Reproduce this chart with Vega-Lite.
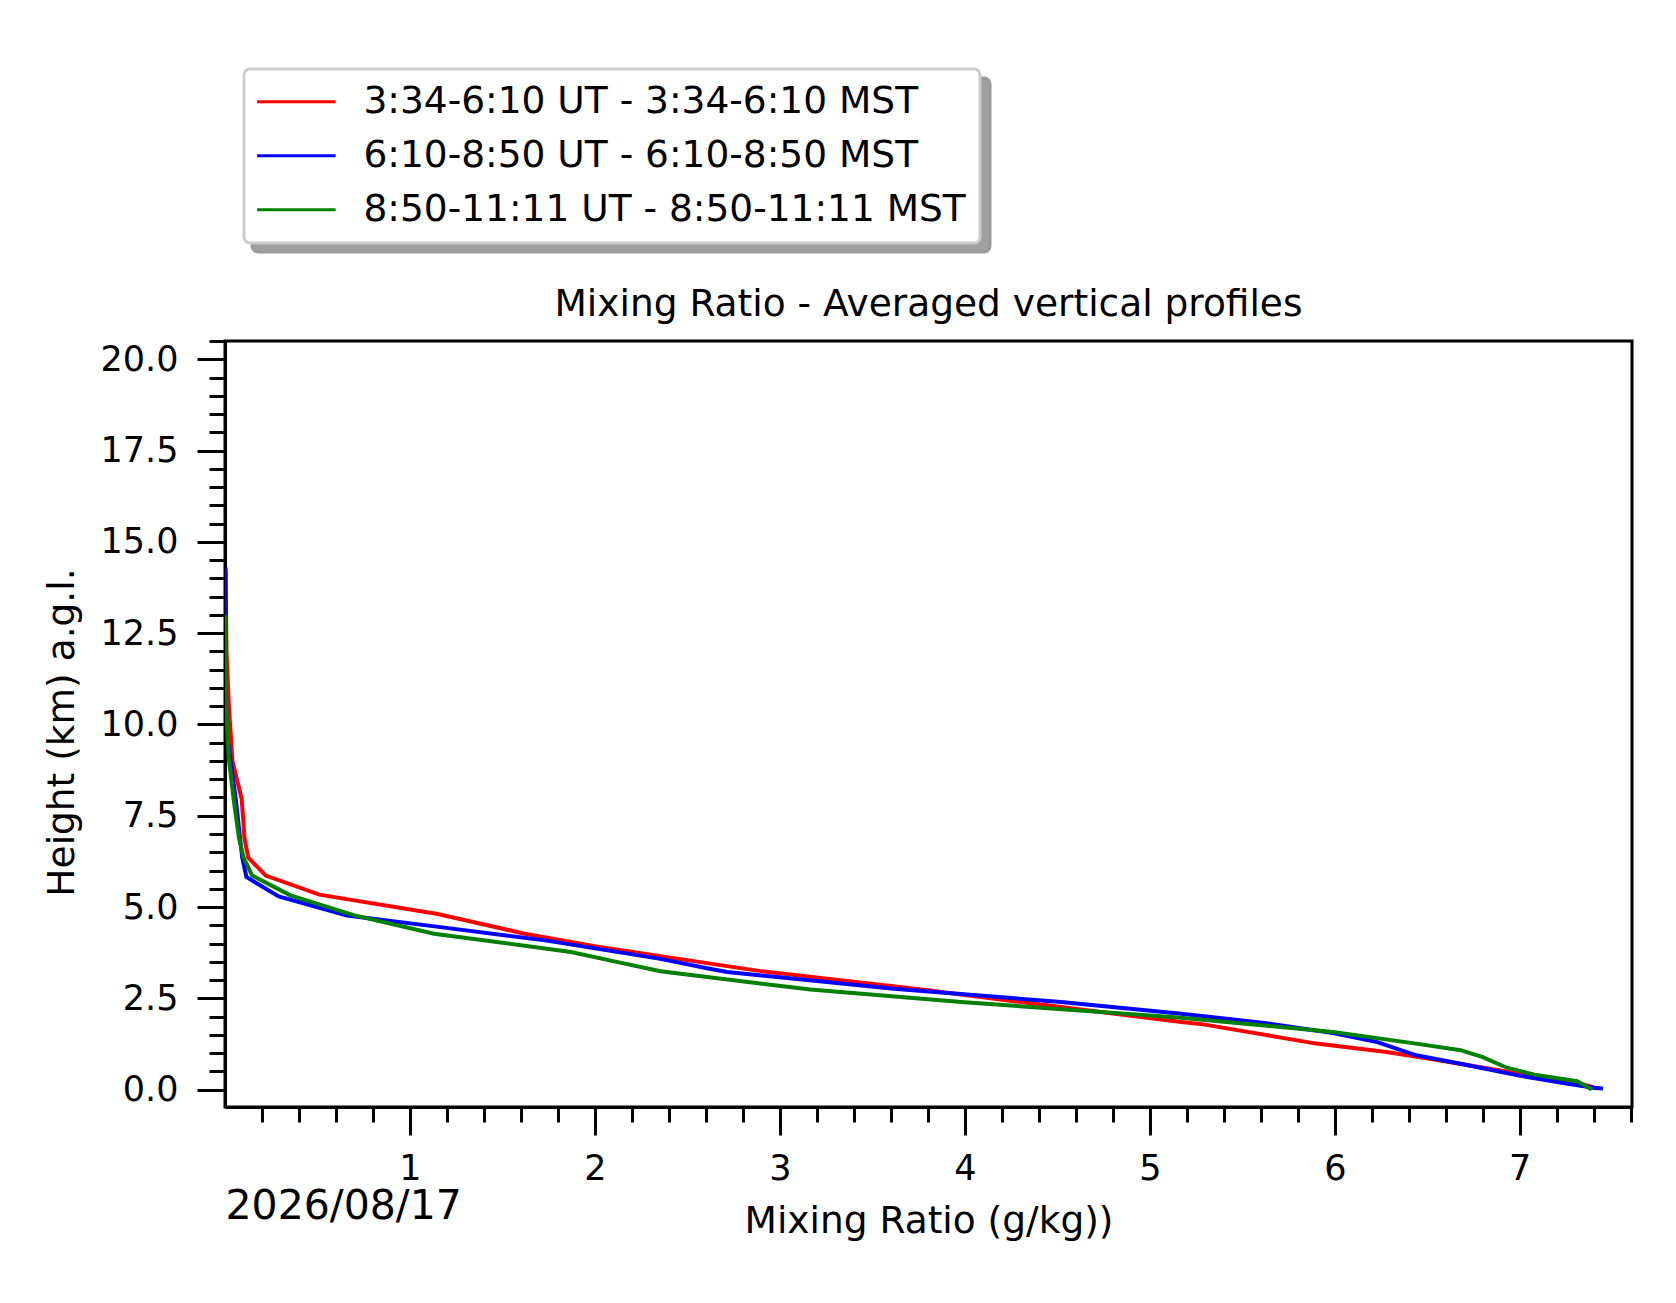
{
  "$schema": "https://vega.github.io/schema/vega-lite/v6.json",
  "autosize": {"type": "none"},
  "padding": {"left": 225, "top": 341, "right": 44, "bottom": 196},
  "width": 1407,
  "height": 766,
  "background": "white",
  "title": {
    "text": "Mixing Ratio - Averaged vertical profiles",
    "font": "DejaVu Sans",
    "fontSize": 37.5,
    "fontWeight": "normal",
    "color": "black",
    "baseline": "alphabetic",
    "frame": "group",
    "offset": -285.5,
    "anchor": "middle"
  },
  "config": {
    "view": {"stroke": "black", "strokeWidth": 3},
    "font": "DejaVu Sans",
    "axis": {
      "domainColor": "black",
      "domainWidth": 3,
      "tickColor": "black",
      "tickWidth": 3,
      "labelColor": "black",
      "labelFont": "DejaVu Sans",
      "labelFontSize": 35,
      "titleColor": "black",
      "titleFont": "DejaVu Sans",
      "titleFontSize": 37.5,
      "titleFontWeight": "normal",
      "grid": false,
      "labelOverlap": false,
      "labelFlush": false
    },
    "legend": {
      "strokeWidth": 3,
      "cornerRadius": 6,
      "padding": 14,
      "labelFont": "DejaVu Sans",
      "labelFontSize": 37.5,
      "rowPadding": 15,
      "labelLimit": 1000,
      "symbolSize": 685,
      "symbolStrokeWidth": 3
    }
  },
  "layer": [
    {
      "data": {
        "values": [
          {"s": "3:34-6:10 UT - 3:34-6:10 MST", "x": 0.003, "h": 14.2},
          {"s": "3:34-6:10 UT - 3:34-6:10 MST", "x": 0.008, "h": 12.0},
          {"s": "3:34-6:10 UT - 3:34-6:10 MST", "x": 0.02, "h": 10.6},
          {"s": "3:34-6:10 UT - 3:34-6:10 MST", "x": 0.04, "h": 9.0},
          {"s": "3:34-6:10 UT - 3:34-6:10 MST", "x": 0.09, "h": 7.96},
          {"s": "3:34-6:10 UT - 3:34-6:10 MST", "x": 0.1, "h": 7.3},
          {"s": "3:34-6:10 UT - 3:34-6:10 MST", "x": 0.105, "h": 6.9},
          {"s": "3:34-6:10 UT - 3:34-6:10 MST", "x": 0.125, "h": 6.36},
          {"s": "3:34-6:10 UT - 3:34-6:10 MST", "x": 0.22, "h": 5.86},
          {"s": "3:34-6:10 UT - 3:34-6:10 MST", "x": 0.51, "h": 5.34},
          {"s": "3:34-6:10 UT - 3:34-6:10 MST", "x": 1.15, "h": 4.81},
          {"s": "3:34-6:10 UT - 3:34-6:10 MST", "x": 1.62, "h": 4.27},
          {"s": "3:34-6:10 UT - 3:34-6:10 MST", "x": 2.0, "h": 3.93},
          {"s": "3:34-6:10 UT - 3:34-6:10 MST", "x": 2.354, "h": 3.655},
          {"s": "3:34-6:10 UT - 3:34-6:10 MST", "x": 2.895, "h": 3.245},
          {"s": "3:34-6:10 UT - 3:34-6:10 MST", "x": 3.8, "h": 2.72},
          {"s": "3:34-6:10 UT - 3:34-6:10 MST", "x": 4.52, "h": 2.26},
          {"s": "3:34-6:10 UT - 3:34-6:10 MST", "x": 5.17, "h": 1.85},
          {"s": "3:34-6:10 UT - 3:34-6:10 MST", "x": 5.273, "h": 1.8},
          {"s": "3:34-6:10 UT - 3:34-6:10 MST", "x": 5.9, "h": 1.26},
          {"s": "3:34-6:10 UT - 3:34-6:10 MST", "x": 6.28, "h": 1.03},
          {"s": "3:34-6:10 UT - 3:34-6:10 MST", "x": 6.53, "h": 0.83},
          {"s": "3:34-6:10 UT - 3:34-6:10 MST", "x": 6.99, "h": 0.44},
          {"s": "3:34-6:10 UT - 3:34-6:10 MST", "x": 7.33, "h": 0.16},
          {"s": "3:34-6:10 UT - 3:34-6:10 MST", "x": 7.42, "h": 0.03},
          {"s": "6:10-8:50 UT - 6:10-8:50 MST", "x": 0.003, "h": 14.3},
          {"s": "6:10-8:50 UT - 6:10-8:50 MST", "x": 0.005, "h": 11.0},
          {"s": "6:10-8:50 UT - 6:10-8:50 MST", "x": 0.01, "h": 9.75},
          {"s": "6:10-8:50 UT - 6:10-8:50 MST", "x": 0.057, "h": 8.0},
          {"s": "6:10-8:50 UT - 6:10-8:50 MST", "x": 0.093, "h": 6.36},
          {"s": "6:10-8:50 UT - 6:10-8:50 MST", "x": 0.116, "h": 5.82},
          {"s": "6:10-8:50 UT - 6:10-8:50 MST", "x": 0.29, "h": 5.29},
          {"s": "6:10-8:50 UT - 6:10-8:50 MST", "x": 0.66, "h": 4.77},
          {"s": "6:10-8:50 UT - 6:10-8:50 MST", "x": 1.165, "h": 4.45},
          {"s": "6:10-8:50 UT - 6:10-8:50 MST", "x": 1.74, "h": 4.08},
          {"s": "6:10-8:50 UT - 6:10-8:50 MST", "x": 2.354, "h": 3.58},
          {"s": "6:10-8:50 UT - 6:10-8:50 MST", "x": 2.62, "h": 3.31},
          {"s": "6:10-8:50 UT - 6:10-8:50 MST", "x": 2.715, "h": 3.22},
          {"s": "6:10-8:50 UT - 6:10-8:50 MST", "x": 3.615, "h": 2.76},
          {"s": "6:10-8:50 UT - 6:10-8:50 MST", "x": 4.52, "h": 2.4},
          {"s": "6:10-8:50 UT - 6:10-8:50 MST", "x": 5.17, "h": 2.08},
          {"s": "6:10-8:50 UT - 6:10-8:50 MST", "x": 5.63, "h": 1.82},
          {"s": "6:10-8:50 UT - 6:10-8:50 MST", "x": 5.99, "h": 1.55},
          {"s": "6:10-8:50 UT - 6:10-8:50 MST", "x": 6.23, "h": 1.3},
          {"s": "6:10-8:50 UT - 6:10-8:50 MST", "x": 6.44, "h": 0.94},
          {"s": "6:10-8:50 UT - 6:10-8:50 MST", "x": 6.68, "h": 0.71},
          {"s": "6:10-8:50 UT - 6:10-8:50 MST", "x": 6.99, "h": 0.39},
          {"s": "6:10-8:50 UT - 6:10-8:50 MST", "x": 7.26, "h": 0.16},
          {"s": "6:10-8:50 UT - 6:10-8:50 MST", "x": 7.4, "h": 0.05},
          {"s": "6:10-8:50 UT - 6:10-8:50 MST", "x": 7.45, "h": 0.03},
          {"s": "8:50-11:11 UT - 8:50-11:11 MST", "x": 0.002, "h": 13.0},
          {"s": "8:50-11:11 UT - 8:50-11:11 MST", "x": 0.006, "h": 10.5},
          {"s": "8:50-11:11 UT - 8:50-11:11 MST", "x": 0.02, "h": 9.1},
          {"s": "8:50-11:11 UT - 8:50-11:11 MST", "x": 0.048, "h": 7.9},
          {"s": "8:50-11:11 UT - 8:50-11:11 MST", "x": 0.075, "h": 6.91},
          {"s": "8:50-11:11 UT - 8:50-11:11 MST", "x": 0.1, "h": 6.36},
          {"s": "8:50-11:11 UT - 8:50-11:11 MST", "x": 0.147, "h": 5.86},
          {"s": "8:50-11:11 UT - 8:50-11:11 MST", "x": 0.354, "h": 5.32},
          {"s": "8:50-11:11 UT - 8:50-11:11 MST", "x": 0.7, "h": 4.77},
          {"s": "8:50-11:11 UT - 8:50-11:11 MST", "x": 1.13, "h": 4.27},
          {"s": "8:50-11:11 UT - 8:50-11:11 MST", "x": 1.87, "h": 3.77},
          {"s": "8:50-11:11 UT - 8:50-11:11 MST", "x": 2.08, "h": 3.54},
          {"s": "8:50-11:11 UT - 8:50-11:11 MST", "x": 2.354, "h": 3.24},
          {"s": "8:50-11:11 UT - 8:50-11:11 MST", "x": 3.165, "h": 2.74},
          {"s": "8:50-11:11 UT - 8:50-11:11 MST", "x": 3.98, "h": 2.4},
          {"s": "8:50-11:11 UT - 8:50-11:11 MST", "x": 5.17, "h": 1.97},
          {"s": "8:50-11:11 UT - 8:50-11:11 MST", "x": 5.27, "h": 1.92},
          {"s": "8:50-11:11 UT - 8:50-11:11 MST", "x": 5.99, "h": 1.58},
          {"s": "8:50-11:11 UT - 8:50-11:11 MST", "x": 6.44, "h": 1.26},
          {"s": "8:50-11:11 UT - 8:50-11:11 MST", "x": 6.68, "h": 1.08},
          {"s": "8:50-11:11 UT - 8:50-11:11 MST", "x": 6.8, "h": 0.89},
          {"s": "8:50-11:11 UT - 8:50-11:11 MST", "x": 6.93, "h": 0.6},
          {"s": "8:50-11:11 UT - 8:50-11:11 MST", "x": 7.08, "h": 0.41},
          {"s": "8:50-11:11 UT - 8:50-11:11 MST", "x": 7.31, "h": 0.23},
          {"s": "8:50-11:11 UT - 8:50-11:11 MST", "x": 7.39, "h": 0.0}
        ]
      },
      "mark": {"type": "line", "strokeWidth": 4, "clip": true},
      "encoding": {
        "x": {
          "field": "x",
          "type": "quantitative",
          "scale": {"domain": [0, 7.607], "nice": false, "zero": false},
          "axis": {
            "orient": "bottom",
            "title": "Mixing Ratio (g/kg))",
            "titleBaseline": "alphabetic",
            "titleY": 125,
            "values": [0.2, 0.4, 0.6, 0.8, 1, 1.2, 1.4, 1.6, 1.8, 2, 2.2, 2.4, 2.6, 2.8, 3, 3.2, 3.4, 3.6, 3.8, 4, 4.2, 4.4, 4.6, 4.8, 5, 5.2, 5.4, 5.6, 5.8, 6, 6.2, 6.4, 6.6, 6.8, 7, 7.2, 7.4, 7.6],
            "labelExpr": "datum.value % 1 === 0 ? format(datum.value, 'd') : ''",
            "tickSize": {"condition": {"test": "datum.value % 1 === 0", "value": 28}, "value": 15},
            "labelPadding": 16
          }
        },
        "y": {
          "field": "h",
          "type": "quantitative",
          "scale": {"domain": [-0.476, 20.5], "nice": false, "zero": false},
          "axis": {
            "title": "Height (km) a.g.l.",
            "titleBaseline": "alphabetic",
            "titleX": -152,
            "titleY": 391,
            "values": [0, 0.5, 1, 1.5, 2, 2.5, 3, 3.5, 4, 4.5, 5, 5.5, 6, 6.5, 7, 7.5, 8, 8.5, 9, 9.5, 10, 10.5, 11, 11.5, 12, 12.5, 13, 13.5, 14, 14.5, 15, 15.5, 16, 16.5, 17, 17.5, 18, 18.5, 19, 19.5, 20, 20.5],
            "labelExpr": "datum.value % 2.5 === 0 ? format(datum.value, '.1f') : ''",
            "tickSize": {"condition": {"test": "datum.value % 2.5 === 0", "value": 28}, "value": 16},
            "labelPadding": 19
          }
        },
        "color": {
          "field": "s",
          "type": "nominal",
          "scale": {
            "domain": ["3:34-6:10 UT - 3:34-6:10 MST", "6:10-8:50 UT - 6:10-8:50 MST", "8:50-11:11 UT - 8:50-11:11 MST"],
            "range": ["#ff0000", "#0000ff", "#008000"]
          },
          "legend": {
            "title": null,
            "orient": "none",
            "legendX": 19,
            "legendY": -272,
            "zindex": 2,
            "strokeColor": "#cccccc",
            "fillColor": "white",
            "symbolType": "M-1.5,0H4.5",
            "labelOffset": 68,
            "labelColor": "black"
          }
        },
        "order": {"field": "h", "type": "quantitative"}
      }
    },
    {
      "data": {
        "values": [
          {"x": 0, "s": "8:50-11:11 UT - 8:50-11:11 MST"},
          {"x": 0, "s": "6:10-8:50 UT - 6:10-8:50 MST"},
          {"x": 0, "s": "3:34-6:10 UT - 3:34-6:10 MST"}
        ]
      },
      "mark": {"type": "point", "opacity": 0},
      "encoding": {
        "x": {
          "field": "x",
          "type": "quantitative",
          "axis": {
            "orient": "bottom",
            "domain": false,
            "ticks": false,
            "labels": false,
            "title": "2026/08/17",
            "titleFontSize": 41,
            "titleAnchor": "start",
            "titleAlign": "left",
            "titleBaseline": "alphabetic",
            "titleX": 0,
            "titleY": 111
          }
        },
        "shape": {
          "field": "s",
          "type": "nominal",
          "scale": {
            "domain": ["8:50-11:11 UT - 8:50-11:11 MST", "6:10-8:50 UT - 6:10-8:50 MST", "3:34-6:10 UT - 3:34-6:10 MST"]
          },
          "legend": {
            "title": null,
            "orient": "none",
            "legendX": 27,
            "legendY": -263,
            "zindex": 1,
            "strokeColor": "#999999",
            "fillColor": "#a0a0a0",
            "symbolOpacity": 0,
            "labelExpr": "''",
            "labelOffset": 672,
            "labelColor": "#a0a0a0"
          }
        }
      }
    }
  ],
  "resolve": {"axis": {"x": "independent"}}
}
